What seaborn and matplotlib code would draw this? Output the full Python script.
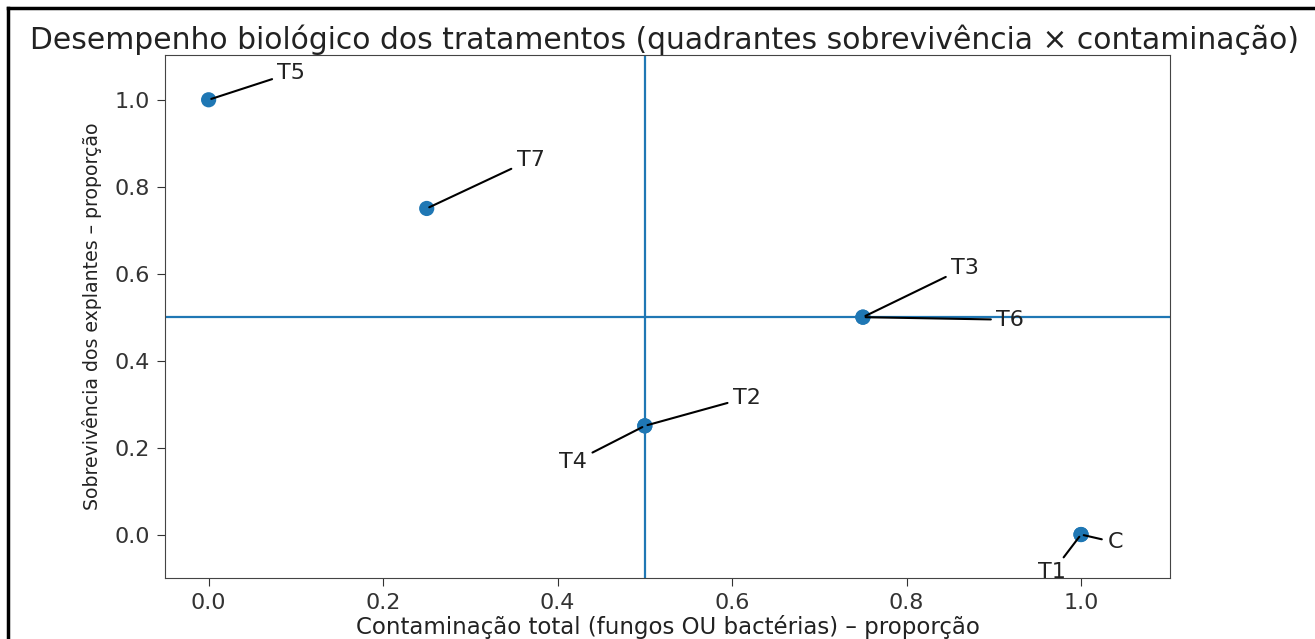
import numpy as np
import pandas as pd
import matplotlib
matplotlib.use("Agg")
import matplotlib.pyplot as plt
import seaborn as sns
from matplotlib.lines import Line2D

# data
tratamentos = ["C", "T1", "T2", "T3", "T4", "T5", "T6", "T7"]
contaminacao = [1.0, 1.0, 0.5, 0.75, 0.5, 0.0, 0.75, 0.25]
sobrevivencia = [0.0, 0.0, 0.25, 0.5, 0.25, 1.0, 0.5, 0.75]
# label positions (as placed in the original chart)
label_x = [1.039, 0.967, 0.617, 0.867, 0.418, 0.095, 0.919, 0.369]
label_y = [-0.018, -0.087, 0.315, 0.614, 0.166, 1.062, 0.494, 0.862]

df = pd.DataFrame({"trat": tratamentos, "cont": contaminacao, "sobr": sobrevivencia})

fig = plt.figure(figsize=(13.15, 6.39), dpi=100)
ax = fig.add_axes([165 / 1315, 1 - 578 / 639, (1170 - 165) / 1315, (578 - 55) / 639])

sns.scatterplot(data=df, x="cont", y="sobr", ax=ax, color="#1f77b4", s=120,
                edgecolor="none", zorder=3)

ax.axvline(0.5, color="#1f77b4", lw=1.6)
ax.axhline(0.5, color="#1f77b4", lw=1.6)

for t, x, y, lx, ly in zip(tratamentos, contaminacao, sobrevivencia, label_x, label_y):
    ax.annotate(t, xy=(x, y), xytext=(lx, ly), ha="center", va="center",
                fontsize=16, color="#222222",
                arrowprops=dict(arrowstyle="-", color="black", lw=1.5))

ax.set_xlim(-0.05, 1.102)
ax.set_ylim(-0.1, 1.103)
ax.set_xticks([0.0, 0.2, 0.4, 0.6, 0.8, 1.0])
ax.set_yticks([0.0, 0.2, 0.4, 0.6, 0.8, 1.0])
ax.tick_params(labelsize=16, length=6, pad=5, colors="#333333")
ax.set_xlabel("Contaminação total (fungos OU bactérias) – proporção", fontsize=16.5,
              color="#222222", labelpad=1)
ax.set_ylabel("Sobrevivência dos explantes – proporção", fontsize=13.6,
              color="#222222", labelpad=9)
for sp in ax.spines.values():
    sp.set_color("#444444")

fig.text(0.505, 1 - 49 / 639,
         "Desempenho biológico dos tratamentos (quadrantes sobrevivência × contaminação)",
         fontsize=21.4, ha="center", va="baseline", color="#222222")

# screenshot frame
fig.add_artist(Line2D([8 / 1315, 8 / 1315], [0, 1 - 8 / 639], color="black", lw=2.5))
fig.add_artist(Line2D([8 / 1315, 1], [1 - 8 / 639, 1 - 8 / 639], color="black", lw=2.5))

fig.savefig("out.png", dpi=100)
